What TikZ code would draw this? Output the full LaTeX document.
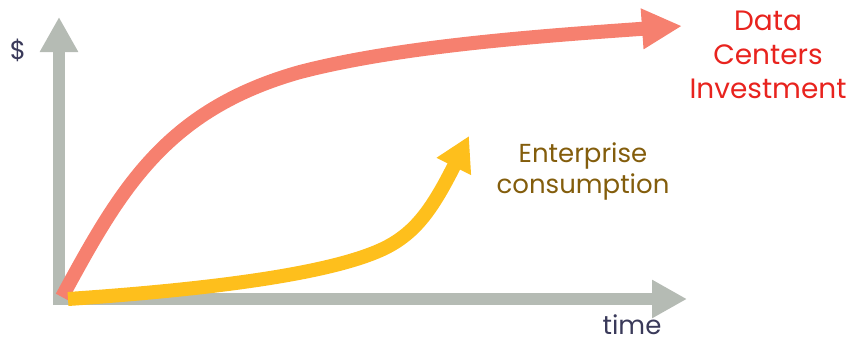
\documentclass[tikz,border=0pt]{standalone}
\usepackage{fontspec}
\setmainfont{Poppins}
\usetikzlibrary{arrows.meta}
\definecolor{axisgrey}{HTML}{B5BBB4}
\definecolor{salmon}{HTML}{F6806F}
\definecolor{amber}{HTML}{FEBF1C}
\definecolor{labred}{HTML}{E8231E}
\definecolor{labbrown}{HTML}{835D0C}
\definecolor{navy}{HTML}{3A3A5A}
\tikzset{
  axis/.style={draw=axisgrey, line width=12pt, -{Triangle[length=35pt,width=36pt]}},
  curve/.style={line width=14pt, line cap=butt},
  lbl/.style={align=center, inner sep=0pt, font=\fontsize{28}{34}\selectfont},
}
\begin{document}
\begin{tikzpicture}[x=1pt,y=-1pt]
\useasboundingbox (0,0) rectangle (851,343);
\coordinate (o) at (59,299);
\coordinate (ytop) at (59,17);
\coordinate (xend) at (687,299);
\draw[axis] (59,305) -- (ytop);
\draw[axis] (53,299) -- (xend);
\coordinate (rs) at (62,297);
\coordinate (re) at (682,26);
\draw[curve, draw=salmon, -{Triangle[length=40pt,width=38pt]}]
  (rs) .. controls (120,190) and (165,110) .. (300,72)
       .. controls (400,46) and (540,36) .. (re);
\coordinate (ys) at (68,299);
\coordinate (ye) at (469,136);
\draw[curve, draw=amber, -{Triangle[length=34pt,width=36pt]}]
  (ys) .. controls (200,290) and (330,275) .. (385,248)
       .. controls (415,233) and (432,210) .. (ye);
\node[text=navy, font=\fontsize{26}{30}\selectfont, inner sep=0pt] (dollar) at (18,50) {\$};
\node[text=navy, font=\fontsize{26}{30}\selectfont, inner sep=0pt] (time) at (632,325) {time};
\node[lbl, text=labred] (dc) at (768,55) {Data\\Centers\\Investment};
\node[lbl, text=labbrown, font=\fontsize{26}{31}\selectfont] (ent) at (583,171) {Enterprise\\consumption};
\end{tikzpicture}
\end{document}
